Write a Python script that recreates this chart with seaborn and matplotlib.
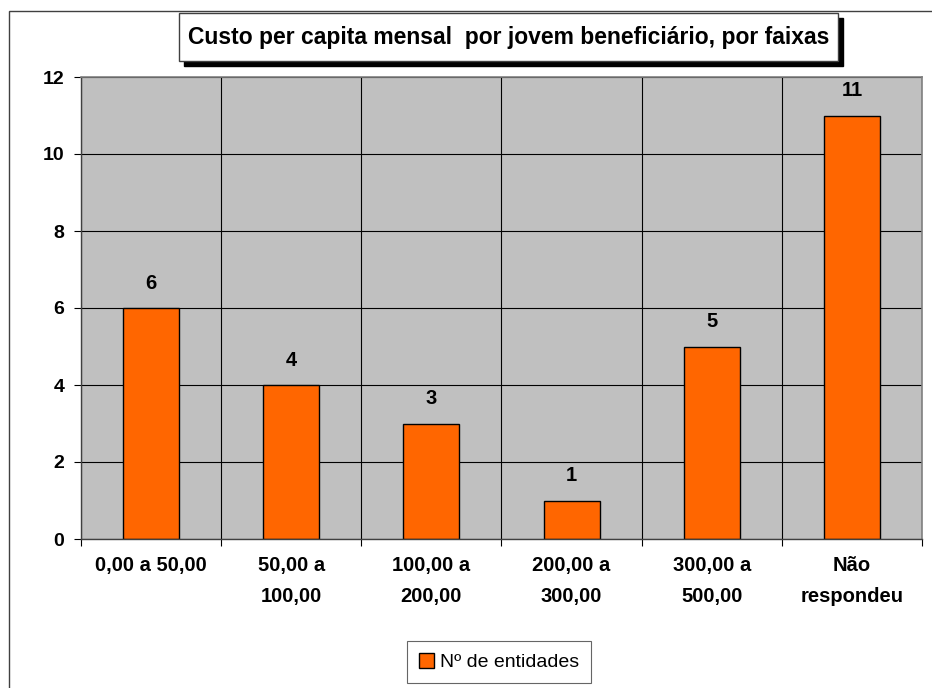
import numpy as np
import pandas as pd
import matplotlib.pyplot as plt
import seaborn as sns
from matplotlib.patches import Rectangle

# Dados
categorias = ["0,00 a 50,00", "50,00 a\n100,00", "100,00 a\n200,00",
              "200,00 a\n300,00", "300,00 a\n500,00", "Não\nrespondeu"]
entidades = [6, 4, 3, 1, 5, 11]
y_ticks = [0, 2, 4, 6, 8, 10, 12]
titulo = "Custo per capita mensal  por jovem beneficiário, por faixas"
serie = "Nº de entidades"

sns.set_style("white")
plt.rcParams['font.family'] = ['Liberation Sans', 'DejaVu Sans']
plt.rcParams['text.color'] = 'black'
plt.rcParams['xtick.color'] = 'black'
plt.rcParams['ytick.color'] = 'black'

fig = plt.figure(figsize=(9.32, 6.88), dpi=100)
ax = fig.add_axes([81 / 932, 1 - 539 / 688, 841 / 932, 462 / 688])

df = pd.DataFrame({"faixa": categorias, "n": entidades})
sns.barplot(data=df, x="faixa", y="n", color="#FF6600", edgecolor="black",
            linewidth=1.0, width=0.4, saturation=1, label=serie, ax=ax)

ax.set_facecolor("#C0C0C0")
ax.set_xlim(-0.5, len(categorias) - 0.5)
ax.set_ylim(0, 12)
ax.set_yticks(y_ticks)
ax.set_yticklabels([str(v) for v in y_ticks], fontsize=14, fontweight="bold")

# marcas do eixo x nas fronteiras, rótulos no centro
fronteiras = np.arange(len(categorias) + 1) - 0.5
ax.set_xticks(fronteiras)
ax.set_xticklabels([])
ax.set_xticks(np.arange(len(categorias)), minor=True)
ax.set_xticklabels(categorias, minor=True, fontsize=14.5, fontweight="bold",
                   linespacing=1.8)
ax.tick_params(axis="x", which="minor", length=0, pad=12)
ax.tick_params(axis="x", which="major", length=5, direction="out", bottom=True)
ax.tick_params(axis="y", length=5, direction="out", left=True, pad=7)
ax.set_xlabel("")
ax.set_ylabel("")

ax.grid(True, which="major", color="black", linewidth=0.8)
ax.set_axisbelow(True)
for s in ["top", "right"]:
    ax.spines[s].set_color("#808080")
    ax.spines[s].set_linewidth(1.2)
for s in ["left", "bottom"]:
    ax.spines[s].set_color("#404040")
    ax.spines[s].set_linewidth(1.0)

ax.bar_label(ax.containers[0], fmt="%d", padding=11, fontsize=14.5,
             fontweight="bold", color="black")

# borda externa
fig.patches.append(Rectangle((9 / 932, -0.5), 2, 0.5 + 1 - 11 / 688,
                             transform=fig.transFigure, fill=False,
                             edgecolor="#404040", linewidth=1.0))

# caixa do título com sombra
tx, ty, tw, th = 179 / 932, 1 - 61 / 688, 659 / 932, 48 / 688
fig.patches.append(Rectangle((tx + 5 / 932, ty - 5 / 688), tw, th,
                             transform=fig.transFigure, facecolor="black",
                             edgecolor="black"))
fig.patches.append(Rectangle((tx, ty), tw, th, transform=fig.transFigure,
                             facecolor="white", edgecolor="#404040",
                             linewidth=1.0))
fig.text(tx + tw / 2, ty + th / 2, titulo, ha="center", va="center",
         fontsize=16.5, fontweight="bold", color="black")

# legenda
if ax.get_legend():
    ax.get_legend().remove()
h, l = ax.get_legend_handles_labels()
leg = fig.legend(h, l, loc="center", bbox_to_anchor=(499 / 932, 1 - 662 / 688),
                 fontsize=14, frameon=True, fancybox=False, edgecolor="#404040",
                 handlelength=0.8, handleheight=0.8, handletextpad=0.3,
                 borderpad=0.6)
leg.get_frame().set_linewidth(0.8)

fig.savefig("out.png", dpi=100)
